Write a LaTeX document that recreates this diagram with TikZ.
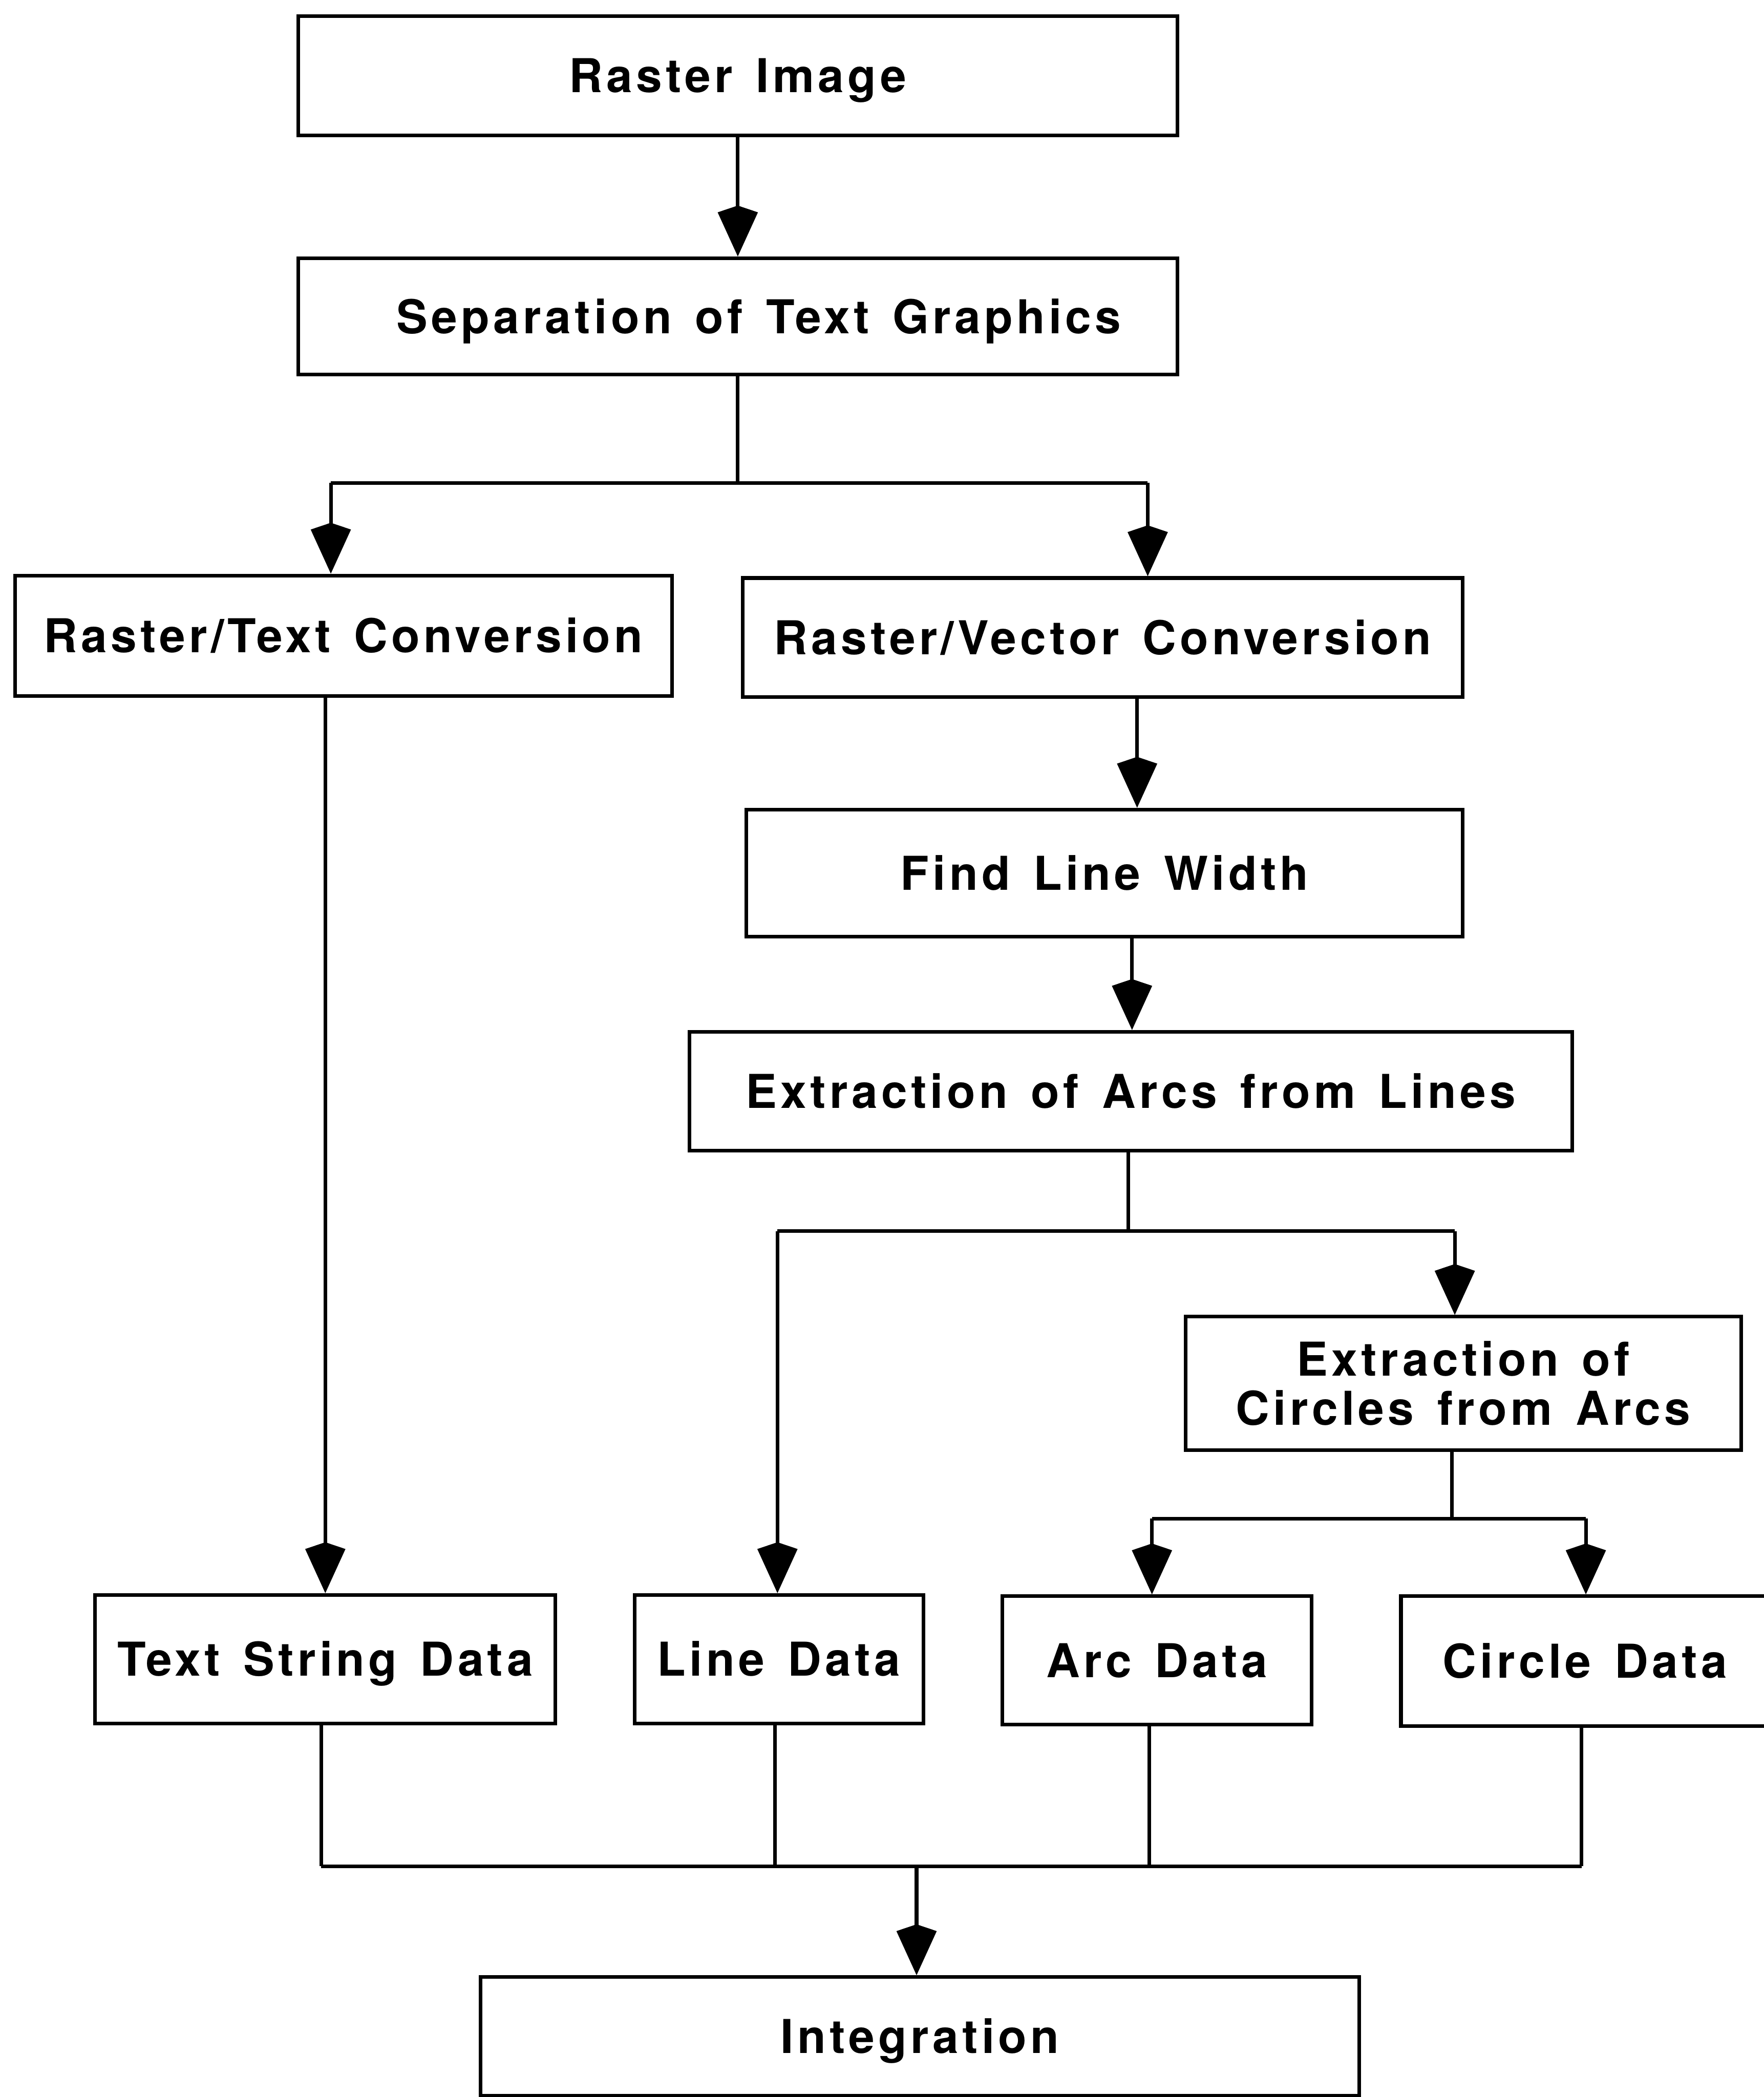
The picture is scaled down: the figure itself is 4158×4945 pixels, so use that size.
\documentclass[tikz,border=0pt]{standalone}
\usepackage{fontspec}
\setmainfont{TeX Gyre Heros}
\newfontfamily\boxfont[LetterSpace=8,WordSpace=1.4]{TeX Gyre Heros}
\usetikzlibrary{arrows.meta}

\tikzset{
  stage/.style={draw, line width=0.85pt, inner sep=0pt, align=center,
    font=\boxfont\bfseries\fontsize{11}{11.6}\selectfont},
  oneline/.style={text height=8pt, text depth=0pt},
  link/.style={line width=0.85pt},
  flow/.style={line width=0.85pt, -{Kite[length=12pt,width=9.5pt,inset=1.6pt]}},
}

\begin{document}
\begin{tikzpicture}[x=0.1pt, y=-0.1pt]
  \useasboundingbox (0,0) rectangle (4158,4945);

  % process boxes
  \node[stage, oneline, minimum width=207.3pt, minimum height=28.1pt] (ri)  at (1739.5,178.5) {Raster Image};
  \node[stage, oneline, minimum width=207.3pt, minimum height=27.4pt] (sep) at (1739.5,746)   {\hspace{10pt}Separation of Text Graphics};
  \node[stage, oneline, minimum width=154.9pt, minimum height=28.4pt] (rt)  at (809.5,1499)   {Raster/Text Conversion};
  \node[stage, oneline, minimum width=169.7pt, minimum height=28.1pt] (rv)  at (2599.5,1503.5){Raster/Vector Conversion};
  \node[stage, oneline, minimum width=168.8pt, minimum height=30pt]   (flw) at (2604,2059)    {Find Line Width};
  \node[stage, oneline, minimum width=208.2pt, minimum height=28pt]   (eal) at (2666,2573)    {Extraction of Arcs from Lines};
  \node[stage,          minimum width=131pt,   minimum height=31.5pt] (eca) at (3450,3262.5)  {Extraction of\\Circles from Arcs};
  \node[stage, oneline, minimum width=108.5pt, minimum height=30.3pt] (tsd) at (766.5,3912.5) {Text String Data};
  \node[stage, oneline, minimum width=68.1pt,  minimum height=30.3pt] (ld)  at (1836.5,3912.5){Line Data};
  \node[stage, oneline, minimum width=72.9pt,  minimum height=30.3pt] (ad)  at (2727.5,3915.5){Arc Data};
  \node[stage, oneline, minimum width=86.8pt,  minimum height=30.6pt] (cd)  at (3737,3917)    {Circle Data};
  \node[stage, oneline, minimum width=207.2pt, minimum height=28pt]   (int) at (2169,4802)    {Integration};

  % top chain
  \draw[flow] (ri.south) -- (sep.north);

  % split after separation
  \coordinate (s0) at (1739.5,1139);
  \coordinate (s1) at (780,1139);
  \coordinate (s2) at (2706,1139);
  \draw[link] (sep.south) -- (s0);
  \draw[link] (s1) -- (s2);
  \draw[flow] (s1) -- (s1 |- rt.north);
  \draw[flow] (s2) -- (s2 |- rv.north);

  % text branch
  \coordinate (t0) at (767,1641);
  \draw[flow] (t0 |- rt.south) -- (t0 |- tsd.north);

  % vector branch
  \coordinate (v1) at (2681,1644);
  \coordinate (v2) at (2669,2209);
  \draw[flow] (v1 |- rv.south) -- (v1 |- flw.north);
  \draw[flow] (v2 |- flw.south) -- (v2 |- eal.north);

  % split after arc extraction
  \coordinate (a0) at (2660,2903);
  \coordinate (a1) at (1833,2903);
  \coordinate (a2) at (3430,2903);
  \draw[link] (a0 |- eal.south) -- (a0);
  \draw[link] (a1) -- (a2);
  \draw[flow] (a1) -- (a1 |- ld.north);
  \draw[flow] (a2) -- (a2 |- eca.north);

  % split after circle extraction
  \coordinate (c0) at (3423,3581);
  \coordinate (c1) at (2716,3581);
  \coordinate (c2) at (3739,3581);
  \draw[link] (c0 |- eca.south) -- (c0);
  \draw[link] (c1) -- (c2);
  \draw[flow] (c1) -- (c1 |- ad.north);
  \draw[flow] (c2) -- (c2 |- cd.north);

  % merge into integration
  \coordinate (m1) at (757,4401);
  \coordinate (m2) at (1827,4401);
  \coordinate (m3) at (2710,4401);
  \coordinate (m4) at (3729,4401);
  \coordinate (m0) at (2161,4401);
  \draw[link] (m1 |- tsd.south) -- (m1);
  \draw[link] (m2 |- ld.south) -- (m2);
  \draw[link] (m3 |- ad.south) -- (m3);
  \draw[link] (m4 |- cd.south) -- (m4);
  \draw[link] (m1) -- (m4);
  \draw[flow] (m0) -- (m0 |- int.north);
\end{tikzpicture}
\end{document}
